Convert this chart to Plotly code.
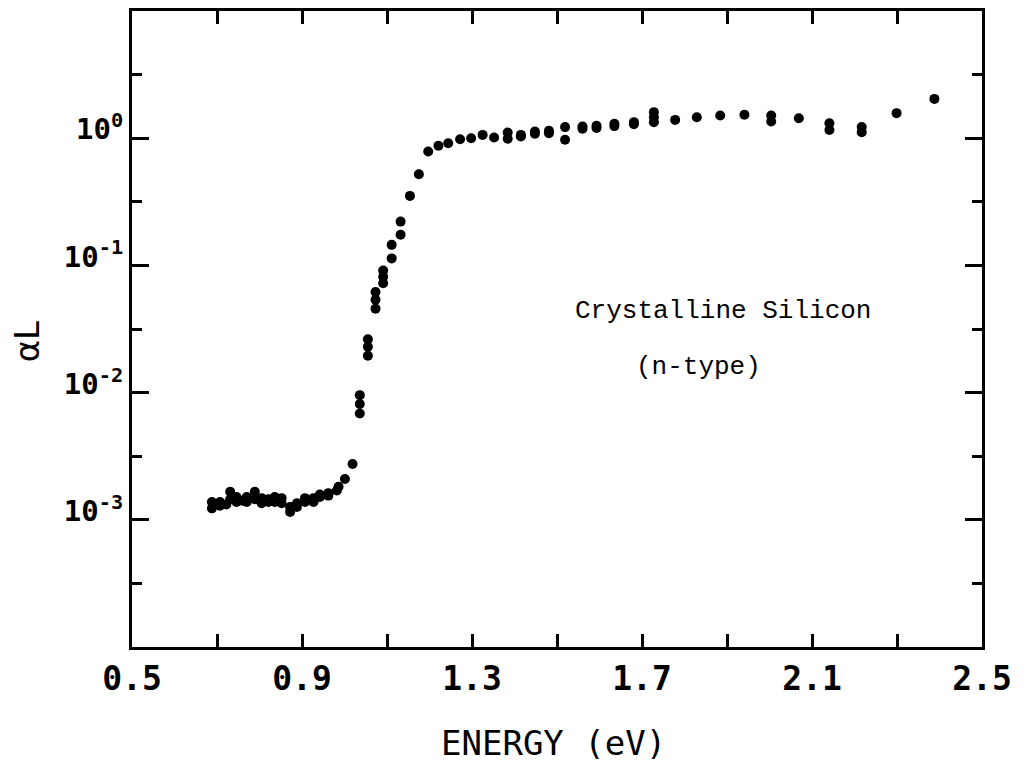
import plotly.graph_objects as go

# ---- data ----
energy = [
    0.688, 0.688, 0.707, 0.707, 0.722, 0.731, 0.731, 0.746, 0.746, 0.760,
    0.770, 0.770, 0.789, 0.789, 0.805, 0.805, 0.821, 0.821, 0.836, 0.836,
    0.852, 0.852, 0.872, 0.872, 0.888, 0.888, 0.907, 0.907, 0.927, 0.927,
    0.942, 0.942, 0.962, 0.962, 0.982, 0.986, 1.001, 1.019,
    1.036, 1.036, 1.036, 1.055, 1.055, 1.055, 1.073, 1.073, 1.073,
    1.091, 1.091, 1.091, 1.111, 1.111, 1.132, 1.132, 1.154, 1.175, 1.197,
    1.221, 1.244, 1.272, 1.298, 1.325, 1.352, 1.384, 1.384, 1.415, 1.415,
    1.448, 1.448, 1.481, 1.481, 1.519, 1.519, 1.560, 1.560, 1.593, 1.593,
    1.635, 1.635, 1.681, 1.681, 1.728, 1.728, 1.728, 1.778, 1.829, 1.884,
    1.941, 2.004, 2.004, 2.069, 2.141, 2.141, 2.217, 2.217, 2.299, 2.388,
]
alpha_l = [
    0.00138, 0.00123, 0.00129, 0.00138, 0.00132, 0.00166, 0.00145, 0.00138, 0.00151, 0.00141,
    0.00151, 0.00138, 0.00166, 0.00145, 0.00148, 0.00135, 0.00138, 0.00145, 0.00151, 0.00138,
    0.00135, 0.00148, 0.00115, 0.00126, 0.00135, 0.00126, 0.00148, 0.00138, 0.00138, 0.00148,
    0.00151, 0.00158, 0.00155, 0.00162, 0.00170, 0.00182, 0.00209, 0.00275,
    0.00955, 0.00813, 0.00684, 0.0263, 0.0229, 0.0195, 0.0617, 0.0537, 0.0457,
    0.0912, 0.0813, 0.0724, 0.145, 0.1135, 0.221, 0.174, 0.352, 0.521, 0.785,
    0.871, 0.914, 0.982, 1.000, 1.062, 1.012, 1.109, 0.989, 1.062, 1.030,
    1.130, 1.084, 1.143, 1.096, 1.222, 0.971, 1.236, 1.189, 1.250, 1.202,
    1.297, 1.245, 1.337, 1.288, 1.603, 1.462, 1.334, 1.393, 1.462, 1.510,
    1.528, 1.510, 1.352, 1.435, 1.312, 1.161, 1.222, 1.114, 1.574, 2.037,
]

x_tickvals = [0.5, 0.9, 1.3, 1.7, 2.1, 2.5]
x_ticktext = ["0.5", "0.9", "1.3", "1.7", "2.1", "2.5"]
x_minor_tickvals = [0.7, 1.1, 1.5, 1.9, 2.3]
y_tickvals = [0.001, 0.01, 0.1, 1.0]
y_ticktext = ["10<sup>-3</sup>", "10<sup>-2</sup>", "10<sup>-1</sup>", "10<sup>0</sup>"]
y_minor_tickvals = [0.000316, 0.00316, 0.0316, 0.316, 3.16]

x_title = "ENERGY (eV)"
y_title = "αL"
note_line1 = "Crystalline Silicon"
note_line2 = "(n-type)"

fig = go.Figure()
fig.add_trace(go.Scatter(
    x=energy, y=alpha_l, mode="markers",
    marker=dict(color="black", size=10, line=dict(width=0)),
    showlegend=False,
))

axis_common = dict(
    showline=True, linecolor="black", linewidth=3, mirror="ticks",
    ticks="inside", tickcolor="black", tickwidth=3,
    showgrid=False, zeroline=False, automargin=False,
)

fig.update_xaxes(
    **axis_common,
    range=[0.5, 2.5],
    tickmode="array", tickvals=x_tickvals, ticktext=x_ticktext,
    ticklen=13,
    minor=dict(tickvals=x_minor_tickvals, ticks="inside", ticklen=13, tickwidth=3, tickcolor="black"),
    tickfont=dict(family="DejaVu Sans Mono", size=33, color="black", weight="bold"),
)
fig.update_yaxes(
    **axis_common,
    type="log", range=[-4, 1],
    tickmode="array", tickvals=y_tickvals, ticktext=y_ticktext,
    ticklen=17, ticklabelshift=-9,
    minor=dict(tickvals=y_minor_tickvals, ticks="inside", ticklen=10, tickwidth=3, tickcolor="black"),
    tickfont=dict(family="DejaVu Sans Mono", size=29, color="black", weight="bold"),
)

# axis titles placed as annotations to match their positions in the reference
fig.add_annotation(x=0.496, y=-0.151, xref="paper", yref="paper", text=x_title,
                   showarrow=False, xanchor="center", yanchor="middle",
                   font=dict(family="DejaVu Sans Mono", size=34, color="black"))
fig.add_annotation(x=-0.124, y=0.48, xref="paper", yref="paper", text=y_title, textangle=-90,
                   showarrow=False, xanchor="center", yanchor="middle",
                   font=dict(family="DejaVu Sans", size=34, color="black"))

fig.add_annotation(x=1.891, y=-1.362, xref="x", yref="y", text=note_line1, showarrow=False,
                   font=dict(family="Liberation Mono", size=26, color="black"))
fig.add_annotation(x=1.832, y=-1.795, xref="x", yref="y", text=note_line2, showarrow=False,
                   font=dict(family="Liberation Mono", size=26, color="black"))

fig.update_layout(
    width=1015, height=760,
    margin=dict(l=124, r=41, t=3, b=121),
    paper_bgcolor="white", plot_bgcolor="white",
)

fig.write_html("out.html")
